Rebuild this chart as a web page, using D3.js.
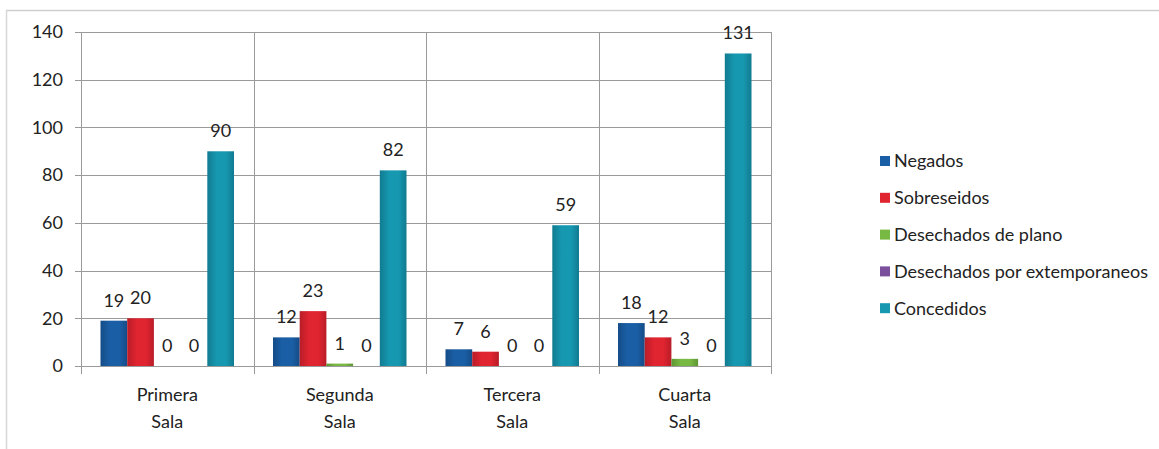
<!DOCTYPE html>
<html><head><meta charset="utf-8">
<script src="https://cdn.jsdelivr.net/npm/d3@7"></script>
<style>body{margin:0;background:#fff}svg{display:block}</style>
</head><body><svg id="c" width="1159" height="449"></svg>
<script>
const categories = [["Primera","Sala"],["Segunda","Sala"],["Tercera","Sala"],["Cuarta","Sala"]];
const seriesNames = ["Negados","Sobreseidos","Desechados de plano","Desechados por extemporaneos","Concedidos"];
const negados = [19,12,7,18];
const sobreseidos = [20,23,6,12];
const desechadosPlano = [0,1,0,3];
const desechadosExt = [0,0,0,0];
const concedidos = [90,82,59,131];
const yTicks = [0,20,40,60,80,100,120,140];
const colors = ["#1a5fa6","#e02430","#78b943","#7a4f9c","#1698b0"];
const darkColors = ["#154c87","#b81d28","#5f9634","#5f3c7c","#117b90"];

const series = [negados, sobreseidos, desechadosPlano, desechadosExt, concedidos];
const svg = d3.select("#c");
const font = "Lato, 'Open Sans', sans-serif";
const textCol = "#222";
const m = {l:81, r:771, t:32, b:366};

// frame
svg.append("line").attr("x1",6).attr("x2",1159).attr("y1",10.5).attr("y2",10.5).attr("stroke","#cfcfcf").attr("stroke-width",1.5);
svg.append("line").attr("x1",6.5).attr("x2",6.5).attr("y1",10).attr("y2",449).attr("stroke","#d8d8d8").attr("stroke-width",1.5);

const defs = svg.append("defs");
colors.forEach((c,i)=>{
  const g = defs.append("linearGradient").attr("id","g"+i).attr("x1",0).attr("x2",1).attr("y1",0).attr("y2",0);
  g.append("stop").attr("offset","0%").attr("stop-color",darkColors[i]);
  g.append("stop").attr("offset","35%").attr("stop-color",c);
  g.append("stop").attr("offset","70%").attr("stop-color",c);
  g.append("stop").attr("offset","100%").attr("stop-color",darkColors[i]);
});

const x0 = d3.scaleBand().domain(d3.range(categories.length)).range([m.l,m.r]).padding(0);
const gap = 19.5;
const x1 = d3.scaleBand().domain(d3.range(series.length)).range([gap, x0.bandwidth()-gap]).padding(0);
const y = d3.scaleLinear().domain([0,140]).range([m.b,m.t]);

// grid
svg.append("g").selectAll("line").data(yTicks).join("line")
  .attr("x1",m.l-6).attr("x2",m.r).attr("y1",d=>Math.round(y(d))+0.5).attr("y2",d=>Math.round(y(d))+0.5)
  .attr("stroke","#9a9a9a").attr("stroke-width",1);
const bounds = d3.range(categories.length+1).map(i=> i<categories.length ? x0(i) : m.r);
svg.append("g").selectAll("line").data(bounds).join("line")
  .attr("x1",d=>Math.round(d)+0.5).attr("x2",d=>Math.round(d)+0.5).attr("y1",m.t).attr("y2",m.b+8)
  .attr("stroke","#9a9a9a").attr("stroke-width",1);

// y labels
svg.append("g").selectAll("text").data(yTicks).join("text")
  .attr("x",63).attr("y",d=>y(d)).attr("dy","0.35em").attr("text-anchor","end")
  .attr("font-family",font).attr("font-size",18).attr("fill",textCol).text(d=>d);

// bars
const flat = [];
series.forEach((s,si)=>s.forEach((v,ci)=>flat.push({si,ci,v})));
svg.append("g").selectAll("rect").data(flat).join("rect")
  .attr("x",d=>x0(d.ci)+x1(d.si)).attr("width",x1.bandwidth())
  .attr("y",d=>y(d.v)).attr("height",d=>y(0)-y(d.v))
  .attr("fill",d=>`url(#g${d.si})`);

// value labels
svg.append("g").selectAll("text").data(flat).join("text")
  .attr("x",d=>x0(d.ci)+x1(d.si)+x1.bandwidth()/2).attr("y",d=>y(d.v)-14)
  .attr("text-anchor","middle").attr("font-family",font).attr("font-size",18).attr("fill",textCol)
  .text(d=>d.v);

// x labels
const xl = svg.append("g").selectAll("text").data(categories).join("text")
  .attr("x",(d,i)=>x0(i)+x0.bandwidth()/2).attr("y",401)
  .attr("text-anchor","middle").attr("font-family",font).attr("font-size",18).attr("fill",textCol);
xl.selectAll("tspan").data(d=>d).join("tspan")
  .attr("x",function(){return this.parentNode.getAttribute("x");})
  .attr("dy",(d,i)=>i?27:0).text(d=>d);

// legend
const lg = svg.append("g").selectAll("g").data(seriesNames).join("g")
  .attr("transform",(d,i)=>`translate(880,${161+i*36.8})`);
lg.append("rect").attr("x",0).attr("y",-5).attr("width",10).attr("height",10).attr("fill",(d,i)=>colors[i]);
lg.append("text").attr("x",14).attr("dy","0.35em").attr("font-family",font).attr("font-size",18)
  .attr("fill",textCol).text(d=>d);
</script></body></html>
